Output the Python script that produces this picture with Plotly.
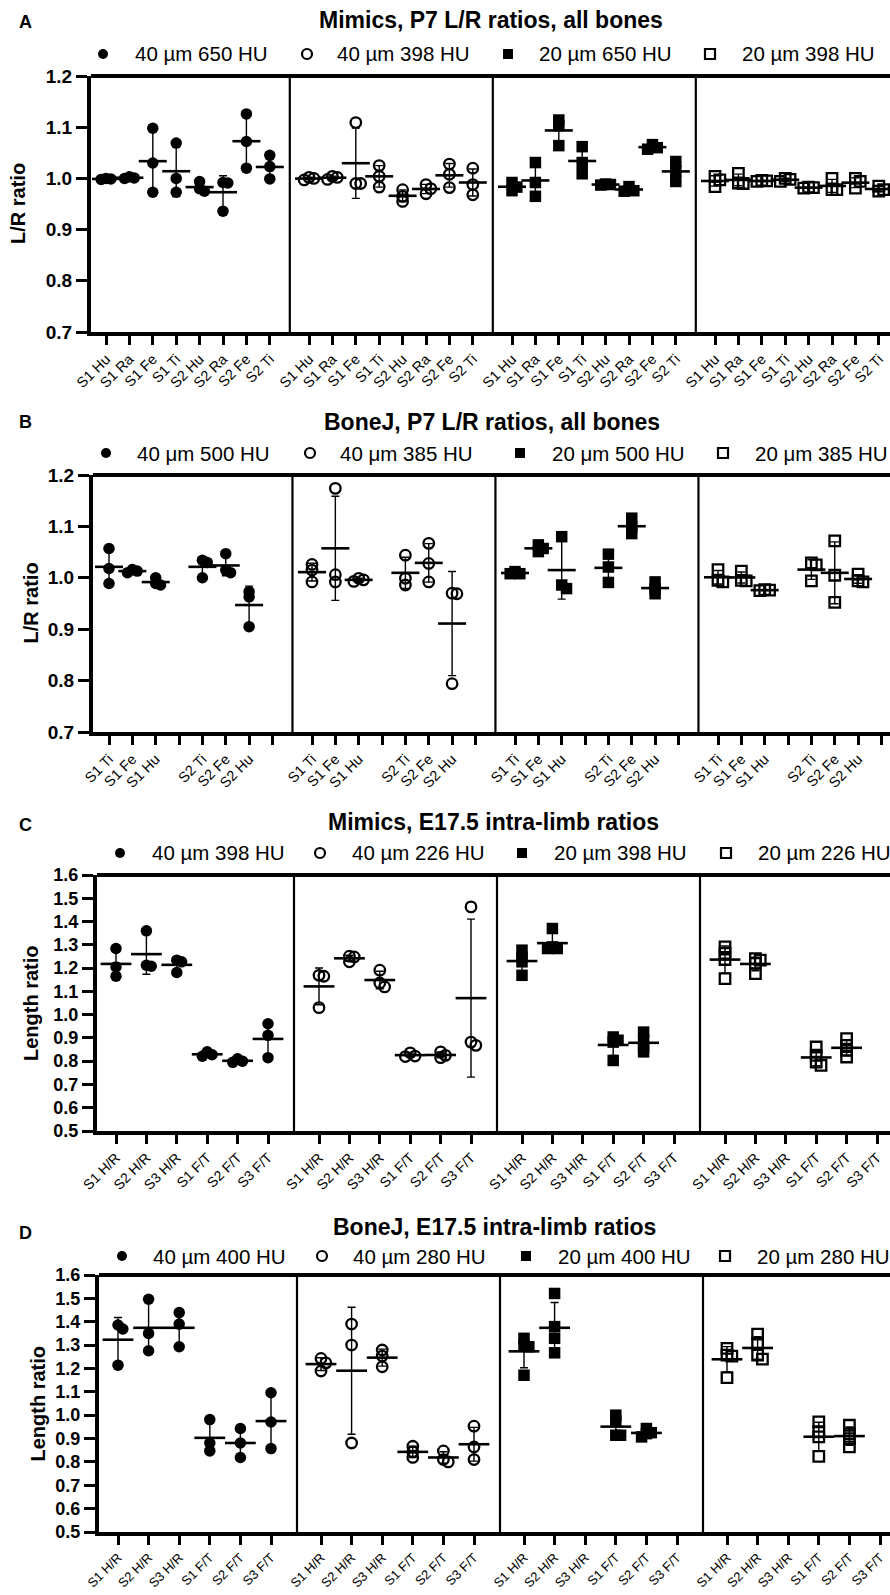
import numpy as np
import plotly.graph_objects as go

W, H = 890, 1595
FONT = "Liberation Sans, Arial, sans-serif"

# ---------------- DATA ----------------
A_title = "Mimics, P7 L/R ratios, all bones"
A_categories = ["S1 Hu", "S1 Ra", "S1 Fe", "S1 Ti", "S2 Hu", "S2 Ra", "S2 Fe", "S2 Ti"]
A_series = ["40 µm 650 HU", "40 µm 398 HU", "20 µm 650 HU", "20 µm 398 HU"]
A_40um_650HU = [[0.998, 0.999, 1.000], [1.000, 1.001, 1.003], [1.098, 1.030, 0.973], [1.069, 1.000, 0.973],
                [0.994, 0.980, 0.975], [0.992, 0.991, 0.936], [1.126, 1.072, 1.020], [1.045, 1.023, 0.999]]
A_40um_398HU = [[1.002, 1.000, 0.997], [1.004, 1.002, 0.998], [1.109, 0.990, 0.990], [1.025, 1.004, 0.983],
                [0.978, 0.965, 0.955], [0.988, 0.980, 0.970], [1.028, 1.008, 0.982], [1.020, 0.988, 0.968]]
A_20um_650HU = [[0.992, 0.983, 0.976], [1.031, 0.992, 0.965], [1.114, 1.103, 1.064], [1.062, 1.031, 1.009],
                [0.989, 0.988, 0.987], [0.984, 0.976, 0.975], [1.066, 1.060, 1.057], [1.033, 1.014, 0.994]]
A_20um_398HU = [[1.004, 0.997, 0.984], [1.010, 0.991, 0.990], [0.996, 0.995, 0.994], [1.000, 0.998, 0.994],
                [0.983, 0.982, 0.981], [1.000, 0.978, 0.978], [1.000, 0.994, 0.981], [0.985, 0.978, 0.975]]

B_title = "BoneJ, P7 L/R ratios, all bones"
B_categories = ["S1 Ti", "S1 Fe", "S1 Hu", "", "S2 Ti", "S2 Fe", "S2 Hu", ""]
B_series = ["40 μm 500 HU", "40 μm 385 HU", "20 μm 500 HU", "20 μm 385 HU"]
B_40um_500HU = [[1.057, 1.018, 0.989], [1.010, 1.016, 1.013], [1.000, 0.989, 0.986], [],
                [1.034, 1.030, 1.000], [1.047, 1.015, 1.010], [0.973, 0.963, 0.905], []]
B_40um_385HU = [[1.026, 1.015, 0.992], [1.174, 1.006, 0.992], [0.999, 0.996, 0.993], [],
                [1.044, 0.999, 0.986], [1.067, 1.028, 0.992], [0.970, 0.969, 0.794], []]
B_20um_500HU = [[1.012, 1.008, 1.008], [1.064, 1.057, 1.051], [1.080, 0.986, 0.979], [],
                [1.046, 1.021, 0.991], [1.116, 1.099, 1.086], [0.992, 0.979, 0.969], []]
B_20um_385HU = [[1.016, 0.995, 0.992], [1.013, 0.995, 0.994], [0.977, 0.976, 0.975], [],
                [1.029, 1.025, 0.994], [1.072, 1.005, 0.952], [1.007, 0.994, 0.992], []]

C_title = "Mimics, E17.5 intra-limb ratios"
C_categories = ["S1 H/R", "S2 H/R", "S3 H/R", "S1 F/T", "S2 F/T", "S3 F/T"]
C_series = ["40 µm 398 HU", "40 µm 226 HU", "20 µm 398 HU", "20 µm 226 HU"]
C_40um_398HU = [[1.284, 1.205, 1.165], [1.360, 1.212, 1.208], [1.234, 1.227, 1.181],
                [0.821, 0.840, 0.828], [0.810, 0.800, 0.795], [0.961, 0.911, 0.815]]
C_40um_226HU = [[1.169, 1.165, 1.030], [1.248, 1.251, 1.227], [1.191, 1.136, 1.119],
                [0.820, 0.822, 0.836], [0.840, 0.825, 0.815], [1.463, 0.882, 0.868]]
C_20um_398HU = [[1.277, 1.248, 1.227, 1.169], [1.370, 1.291, 1.284, 1.284], [],
                [0.904, 0.890, 0.882, 0.803], [0.925, 0.890, 0.861, 0.840], []]
C_20um_226HU = [[1.291, 1.263, 1.237, 1.155], [1.241, 1.234, 1.220, 1.176], [],
                [0.861, 0.825, 0.796, 0.782], [0.897, 0.868, 0.847, 0.818], []]

D_title = "BoneJ, E17.5 intra-limb ratios"
D_categories = ["S1 H/R", "S2 H/R", "S3 H/R", "S1 F/T", "S2 F/T", "S3 F/T"]
D_series = ["40 µm 400 HU", "40 µm 280 HU", "20 µm 400 HU", "20 µm 280 HU"]
D_40um_400HU = [[1.386, 1.369, 1.214], [1.496, 1.350, 1.276], [1.439, 1.390, 1.293],
                [0.981, 0.881, 0.847], [0.943, 0.881, 0.819], [1.096, 0.971, 0.857]]
D_40um_280HU = [[1.243, 1.224, 1.189], [1.390, 1.300, 0.881], [1.279, 1.253, 1.207],
                [0.867, 0.843, 0.819], [0.847, 0.810, 0.800], [0.953, 0.864, 0.810]]
D_20um_400HU = [[1.329, 1.300, 1.293, 1.171], [1.521, 1.379, 1.329, 1.267], [],
                [1.000, 0.976, 0.914, 0.914], [0.943, 0.925, 0.921, 0.907], []]
D_20um_280HU = [[1.286, 1.257, 1.253, 1.161], [1.347, 1.307, 1.257, 1.240], [],
                [0.971, 0.929, 0.907, 0.824], [0.957, 0.921, 0.900, 0.864], []]

# ---------------- LAYOUT CONFIG (pixels) ----------------
panels = [
    dict(letter="A", title=A_title, cats=A_categories, series=A_series,
         data=[A_40um_650HU, A_40um_398HU, A_20um_650HU, A_20um_398HU],
         top=76, bot=332, L=91, t0=106, s=23.4, dd=20, yr=(0.7, 1.2), ylabel="L/R ratio",
         ytick_size=19, xtick_size=14.5, title_y=20, letter_y=22, leg_y=54, ylab_x=18,
         leg_mx=[103, 307, 508, 710], leg_tx=[133, 335, 537, 740]),
    dict(letter="B", title=B_title, cats=B_categories, series=B_series,
         data=[B_40um_500HU, B_40um_385HU, B_20um_500HU, B_20um_385HU],
         top=475, bot=732, L=93, t0=109, s=23.35, dd=20, yr=(0.7, 1.2), ylabel="L/R ratio",
         ytick_size=19, xtick_size=14.5, title_y=422, letter_y=422, leg_y=453, ylab_x=30,
         leg_mx=[106, 310, 520, 723], leg_tx=[135, 338, 550, 753]),
    dict(letter="C", title=C_title, cats=C_categories, series=C_series,
         data=[C_40um_398HU, C_40um_226HU, C_20um_398HU, C_20um_226HU],
         top=875, bot=1131, L=97, t0=116, s=30.4, dd=26, yr=(0.5, 1.6), ylabel="Length ratio",
         ytick_size=18, xtick_size=14, title_y=822, letter_y=825, leg_y=853, ylab_x=31,
         leg_mx=[120, 320, 522, 726], leg_tx=[150, 350, 552, 756]),
    dict(letter="D", title=D_title, cats=D_categories, series=D_series,
         data=[D_40um_400HU, D_40um_280HU, D_20um_400HU, D_20um_280HU],
         top=1275, bot=1532, L=99, t0=118, s=30.6, dd=26, yr=(0.5, 1.6), ylabel="Length ratio",
         ytick_size=18, xtick_size=13, title_y=1227, letter_y=1233, leg_y=1256, ylab_x=37,
         leg_mx=[122, 322, 526, 725], leg_tx=[151, 351, 556, 755]),
]
PERIOD_PX = 203.0
SYMBOLS = ["circle", "circle-open", "square", "square-open"]
MSIZE = 11.5


def px2x(px):
    return px / W


def px2y(py):
    return 1 - py / H


def swarm(vals, ypx, xpx, diam):
    """Simple beeswarm: horizontal offsets (data units) so markers only partly overlap."""
    vals = np.asarray(vals, float)
    offs = np.zeros(len(vals))
    placed = []
    for idx in np.argsort(-vals):
        y = vals[idx] * ypx
        for c in [0, 1, -1, 2, -2, 3, -3]:
            ox = c * diam * 0.42
            if all(np.hypot(ox - px_, y - py_) >= diam * 0.42 for px_, py_ in placed):
                break
        placed.append((ox, y))
        offs[idx] = ox / xpx
    return offs


fig = go.Figure()
shapes, annotations = [], []
layout_axes = {}

for pi, p in enumerate(panels):
    n = len(p["cats"])
    s = p["s"]
    P = PERIOD_PX / s
    r0 = -(p["t0"] - p["L"]) / s
    r1 = r0 + (W - p["L"]) / s
    xa = "x" if pi == 0 else f"x{pi + 1}"
    ya = "y" if pi == 0 else f"y{pi + 1}"
    xkey = "xaxis" if pi == 0 else f"xaxis{pi + 1}"
    ykey = "yaxis" if pi == 0 else f"yaxis{pi + 1}"
    ymin, ymax = p["yr"]
    ypx = (p["bot"] - p["top"]) / (ymax - ymin)

    tickvals, ticktext = [], []
    for k in range(4):
        for i in range(n):
            tickvals.append(k * P + i)
            ticktext.append(p["cats"][i])

    for k, (name, sdata) in enumerate(zip(p["series"], p["data"])):
        xs, ys, mx, my, me = [], [], [], [], []
        for i, vals in enumerate(sdata):
            if len(vals) == 0:
                continue
            base = k * P + i
            offs = swarm(vals, ypx, s, MSIZE)
            xs += list(base + offs)
            ys += list(vals)
            mx.append(base)
            my.append(float(np.mean(vals)))
            me.append(float(np.std(vals, ddof=1)))
        sym = SYMBOLS[k]
        is_open = sym.endswith("open")
        fig.add_trace(go.Scatter(
            x=xs, y=ys, mode="markers", xaxis=xa, yaxis=ya, showlegend=False, name=name,
            marker=dict(symbol=sym, size=MSIZE if not is_open else MSIZE - 1, color="black",
                        line=dict(color="black", width=2.3 if is_open else 0))))
        fig.add_trace(go.Scatter(
            x=mx, y=my, mode="markers", xaxis=xa, yaxis=ya, showlegend=False, name=name + " mean",
            marker=dict(symbol="line-ew", size=20 if n == 8 else 22, color="black",
                        line=dict(color="black", width=2.6)),
            error_y=dict(type="data", array=me, visible=True, color="black", thickness=1.4, width=4)))

    # axes
    layout_axes[xkey] = dict(
        domain=[px2x(p["L"]), 1], range=[r0, r1], anchor=ya, showgrid=False, zeroline=False,
        showline=True, linewidth=4, linecolor="black", ticks="outside", ticklen=9, tickwidth=3,
        tickcolor="black", tickvals=tickvals, ticktext=ticktext, tickangle=-45, automargin=False,
        tickfont=dict(family=FONT, size=p["xtick_size"], color="black"), fixedrange=True)
    layout_axes[ykey] = dict(
        domain=[px2y(p["bot"]), px2y(p["top"])], range=[ymin, ymax], anchor=xa, showgrid=False,
        zeroline=False, showline=True, linewidth=4, linecolor="black", ticks="outside", ticklen=11,
        tickwidth=3, tickcolor="black", dtick=0.1, tick0=ymin, tickformat=".1f", automargin=False,
        tickfont=dict(family=FONT, size=p["ytick_size"], color="black", weight="bold"), fixedrange=True)

    # top frame line
    shapes.append(dict(type="line", xref=f"{xa} domain", yref=f"{ya} domain", x0=0, x1=1, y0=1, y1=1,
                       line=dict(color="black", width=4)))
    # dividers between sub-panels
    for k in range(1, 4):
        xd = (k - 1) * P + (n - 1) + p["dd"] / s
        shapes.append(dict(type="line", xref=xa, yref=f"{ya} domain", x0=xd, x1=xd, y0=0, y1=1,
                           line=dict(color="black", width=2.2)))

    # titles, letters, y label
    annotations.append(dict(text=f"<b>{p['title']}</b>", xref="paper", yref="paper",
                            x=px2x((p["L"] + W) / 2), y=px2y(p["title_y"]), showarrow=False,
                            xanchor="center", yanchor="middle", font=dict(family=FONT, size=23, color="black")))
    annotations.append(dict(text=f"<b>{p['letter']}</b>", xref="paper", yref="paper",
                            x=px2x(25), y=px2y(p["letter_y"]), showarrow=False,
                            xanchor="center", yanchor="middle", font=dict(family=FONT, size=18, color="black")))
    annotations.append(dict(text=f"<b>{p['ylabel']}</b>", xref="paper", yref="paper", textangle=-90,
                            x=px2x(p["ylab_x"]), y=px2y((p["top"] + p["bot"]) / 2), showarrow=False,
                            xanchor="center", yanchor="middle", font=dict(family=FONT, size=20, color="black")))

    # legend (manual)
    ly = p["leg_y"]
    for k, name in enumerate(p["series"]):
        cx = p["leg_mx"][k]
        r = 5
        sym = SYMBOLS[k]
        kind = "circle" if sym.startswith("circle") else "rect"
        is_open = sym.endswith("open")
        shapes.append(dict(type=kind, xref="paper", yref="paper",
                           x0=px2x(cx - r), x1=px2x(cx + r), y0=px2y(ly + r), y1=px2y(ly - r),
                           fillcolor="white" if is_open else "black",
                           line=dict(color="black", width=2.2 if is_open else 0)))
        annotations.append(dict(text=name, xref="paper", yref="paper", x=px2x(p["leg_tx"][k]),
                                y=px2y(ly), showarrow=False, xanchor="left", yanchor="middle",
                                font=dict(family=FONT, size=20.5, color="black")))

fig.update_layout(
    width=W, height=H, margin=dict(l=0, r=0, t=0, b=0, pad=0, autoexpand=False), autosize=False,
    paper_bgcolor="white", plot_bgcolor="white", showlegend=False,
    shapes=shapes, annotations=annotations, **layout_axes)

fig.write_html("out.html", config=dict(displayModeBar=False),
               post_script="document.body.style.margin='0';document.body.style.overflow='hidden';")
